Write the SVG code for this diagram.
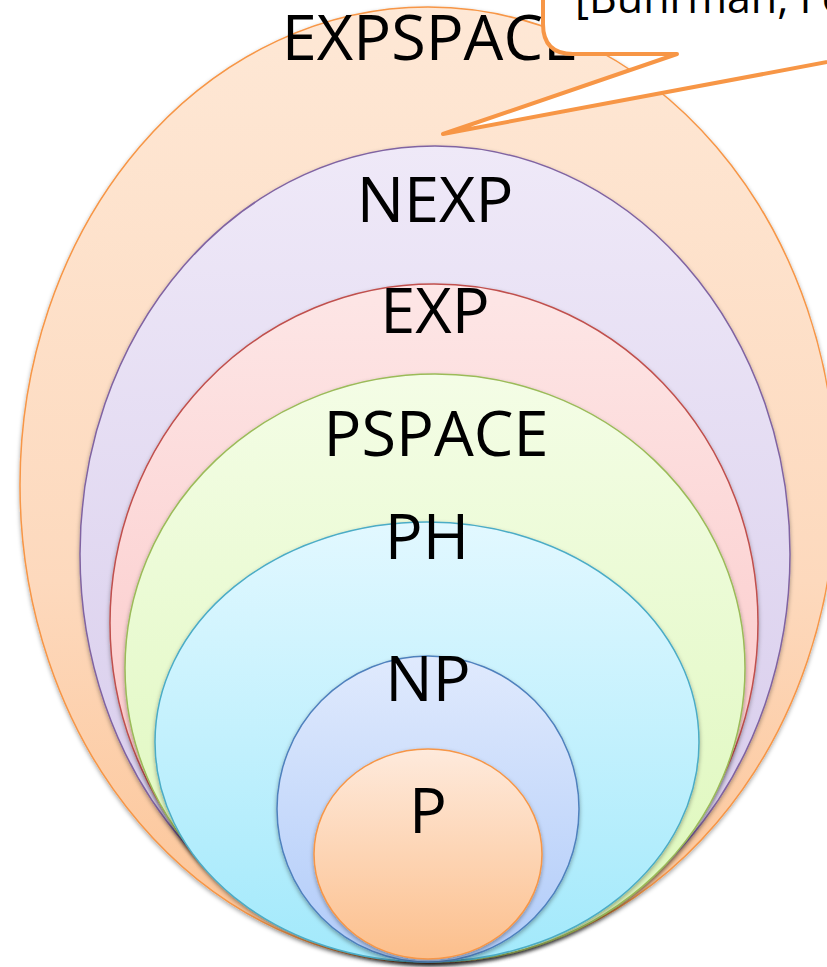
<svg xmlns="http://www.w3.org/2000/svg" width="827" height="967" viewBox="0 0 827 967">
<defs>
<linearGradient id="gOr" x1="0" y1="0" x2="0" y2="1"><stop offset="0" stop-color="#fee8d6"/><stop offset="0.6" stop-color="#fdd9bd"/><stop offset="1" stop-color="#fcc394"/></linearGradient>
<linearGradient id="gPu" x1="0" y1="0" x2="0" y2="1"><stop offset="0" stop-color="#efe9f8"/><stop offset="1" stop-color="#d4c8ea"/></linearGradient>
<linearGradient id="gRe" x1="0" y1="0" x2="0" y2="1"><stop offset="0" stop-color="#fde6e6"/><stop offset="1" stop-color="#fbc0c0"/></linearGradient>
<linearGradient id="gGr" x1="0" y1="0" x2="0" y2="1"><stop offset="0" stop-color="#f4fde6"/><stop offset="1" stop-color="#dcf7b8"/></linearGradient>
<linearGradient id="gCy" x1="0" y1="0" x2="0" y2="1"><stop offset="0" stop-color="#e2f8ff"/><stop offset="1" stop-color="#a2e9fb"/></linearGradient>
<linearGradient id="gBl" x1="0" y1="0" x2="0" y2="1"><stop offset="0" stop-color="#e0eafd"/><stop offset="1" stop-color="#b0cbf9"/></linearGradient>
<linearGradient id="gP" x1="0" y1="0" x2="0" y2="1"><stop offset="0" stop-color="#feeadc"/><stop offset="1" stop-color="#fcbf8c"/></linearGradient>
<filter id="sh" x="-10%" y="-10%" width="120%" height="120%"><feDropShadow dx="0" dy="2" stdDeviation="2" flood-color="#000" flood-opacity="0.35"/></filter>
</defs>
<style>
.lbl{font-family:"Open Sans","Liberation Sans",sans-serif;font-size:63px;fill:#000;text-anchor:middle}
.el{stroke-width:1.5;filter:url(#sh)}
</style>
<g id="expspace"><ellipse class="el" cx="428" cy="485" rx="408" ry="478" fill="url(#gOr)" stroke="#f79646"/><text class="lbl" x="430" y="60">EXPSPACE</text></g>
<g id="nexp"><ellipse class="el" cx="435" cy="554" rx="355" ry="408" fill="url(#gPu)" stroke="#8064a2"/><text class="lbl" x="435" y="222">NEXP</text></g>
<g id="exp"><ellipse class="el" cx="434" cy="623" rx="324" ry="339" fill="url(#gRe)" stroke="#c0504d"/><text class="lbl" x="435" y="333">EXP</text></g>
<g id="pspace"><ellipse class="el" cx="435" cy="668" rx="310" ry="294" fill="url(#gGr)" stroke="#9bbb59"/><text class="lbl" x="436" y="456">PSPACE</text></g>
<g id="ph"><ellipse class="el" cx="427" cy="742" rx="272" ry="220" fill="url(#gCy)" stroke="#4bacc6"/><text class="lbl" x="427" y="559">PH</text></g>
<g id="np"><ellipse class="el" cx="428" cy="809" rx="151" ry="153" fill="url(#gBl)" stroke="#4f81bd"/><text class="lbl" x="428" y="701">NP</text></g>
<g id="p"><ellipse class="el" cx="428" cy="854" rx="114" ry="105" fill="url(#gP)" stroke="#f79646" stroke-width="2"/><text class="lbl" x="428" y="833">P</text></g>
<g id="callout">
<path d="M543,-60 L543,24 Q543,54 573,54 L677,54 L443,134 L870,54 L1000,54 L1000,-60 Z" fill="#fff" stroke="#f79646" stroke-width="4" stroke-linejoin="round"/>
<text x="575" y="13" font-family="Open Sans, Liberation Sans, sans-serif" font-size="43" fill="#000">[Buhrman, Fo</text>
</g>
<g id="connectors"/>
</svg>
